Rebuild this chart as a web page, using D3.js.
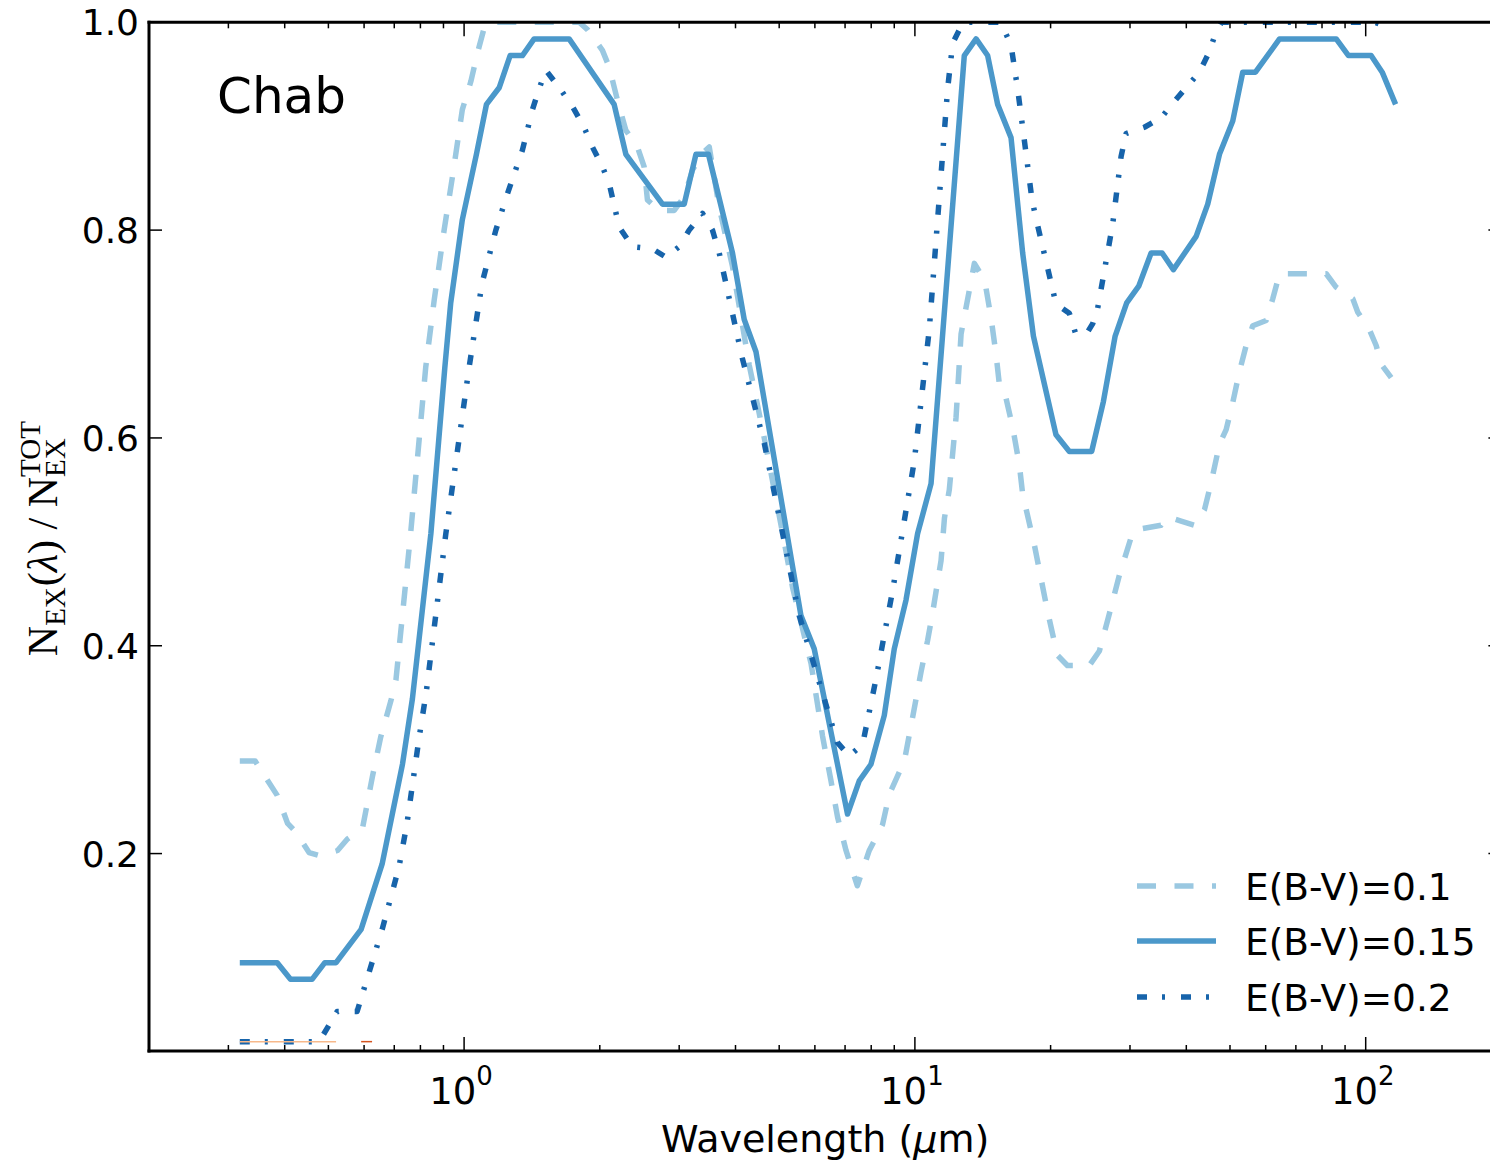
<!DOCTYPE html>
<html><head><meta charset="utf-8">
<script src="https://cdn.jsdelivr.net/npm/d3@7"></script>
<style>body{margin:0;background:#fff} svg{display:block}</style>
</head><body>
<svg id="chart" width="1490" height="1162"></svg>
<script>
// ---- data (wavelength in micron, fraction N_EX / N_EX^TOT) ----
const wl_01 = [0.318,0.344,0.385,0.406,0.423,0.453,0.478,0.524,0.551,0.595,0.626,0.653,0.688,0.706,0.761,0.822,0.858,0.903,0.942,0.991,1.035,1.070,1.107,1.136,1.800,1.878,2.027,2.098,2.189,2.285,2.424,2.508,2.551,2.709,2.925,3.078,3.212,3.380,3.498,3.681,3.939,4.291,4.633,5.131,5.354,5.883,6.240,6.514,6.738,7.034,7.451,7.921,8.478,8.773,9.474,9.883,10.32,10.67,10.95,11.43,11.63,11.92,12.34,12.66,13.55,13.90,14.38,14.75,15.14,15.39,15.93,16.48,17.05,17.34,18.41,19.67,20.70,21.79,24.38,25.66,27.01,28.42,30.41,31.20,35.16,36.38,38.95,41.70,43.89,45.41,47.38,49.03,50.71,52.48,54.31,56.17,60.15,62.21,64.40,81.73,86.02,93.62,96.04,101.97,105.5,108.2,113.9];
const val_01 = [0.289,0.289,0.256,0.229,0.221,0.201,0.198,0.203,0.214,0.224,0.274,0.312,0.347,0.367,0.508,0.668,0.732,0.800,0.851,0.916,0.943,0.970,0.994,1.0,1.0,0.993,0.973,0.957,0.925,0.896,0.880,0.861,0.829,0.819,0.819,0.832,0.858,0.874,0.880,0.822,0.765,0.670,0.600,0.500,0.456,0.383,0.313,0.270,0.235,0.203,0.169,0.203,0.228,0.257,0.289,0.331,0.375,0.405,0.432,0.482,0.523,0.550,0.620,0.700,0.768,0.760,0.744,0.716,0.680,0.652,0.638,0.610,0.574,0.546,0.497,0.434,0.391,0.381,0.381,0.395,0.431,0.468,0.509,0.512,0.516,0.524,0.520,0.516,0.531,0.557,0.594,0.608,0.634,0.664,0.689,0.708,0.713,0.734,0.758,0.758,0.745,0.734,0.721,0.704,0.689,0.671,0.658];

const wl_015 = [0.318,0.385,0.412,0.460,0.491,0.520,0.591,0.658,0.693,0.730,0.768,0.844,0.906,0.934,0.991,1.065,1.121,1.196,1.265,1.347,1.430,1.710,2.152,2.285,2.755,3.078,3.268,3.484,3.939,4.182,4.441,5.588,5.980,7.089,7.526,7.990,8.553,9.000,9.556,10.14,10.86,12.87,13.67,14.50,15.26,16.34,17.34,18.32,20.56,22.01,24.67,26.19,27.81,29.50,31.37,33.42,35.35,37.45,42.06,44.63,47.38,50.71,53.37,56.95,64.40,86.02,91.58,102.8,108.8,116.5];
const val_015 = [0.095,0.095,0.079,0.079,0.095,0.095,0.127,0.190,0.238,0.286,0.349,0.508,0.667,0.730,0.810,0.873,0.921,0.937,0.968,0.968,0.984,0.984,0.921,0.873,0.825,0.825,0.873,0.873,0.778,0.714,0.683,0.429,0.397,0.238,0.270,0.286,0.333,0.397,0.444,0.508,0.556,0.968,0.984,0.968,0.921,0.889,0.778,0.698,0.603,0.587,0.587,0.635,0.698,0.730,0.746,0.778,0.778,0.762,0.794,0.825,0.873,0.905,0.952,0.952,0.984,0.984,0.968,0.968,0.952,0.921];

const wl_02 = [0.318,0.477,0.523,0.579,0.658,0.717,0.747,0.795,0.824,0.911,1.026,1.096,1.176,1.248,1.347,1.418,1.467,1.518,1.639,1.739,1.846,1.926,2.027,2.098,2.208,2.363,2.617,2.803,3.000,3.157,3.380,3.556,3.681,4.140,4.633,5.539,6.728,7.151,7.655,8.198,8.924,9.970,10.76,11.23,11.82,12.13,12.66,12.90,15.39,15.65,16.34,16.90,17.64,18.19,18.57,20.56,22.01,22.78,24.17,24.80,25.44,27.47,28.67,29.41,32.29,35.16,37.64,42.78,45.02,46.58,47.90,104.6,112.9];
const val_02 = [0.019,0.019,0.048,0.048,0.127,0.187,0.229,0.312,0.355,0.508,0.668,0.749,0.800,0.835,0.877,0.916,0.936,0.954,0.935,0.919,0.899,0.880,0.861,0.845,0.803,0.784,0.782,0.774,0.784,0.800,0.816,0.800,0.778,0.677,0.595,0.429,0.307,0.294,0.305,0.368,0.453,0.578,0.704,0.810,0.936,0.980,0.996,1.0,1.0,0.996,0.978,0.936,0.874,0.829,0.811,0.729,0.720,0.699,0.702,0.710,0.725,0.806,0.871,0.893,0.899,0.908,0.924,0.952,0.972,0.991,1.0,1.0,0.995];

// faint extra traces along the bottom
const wl_extraA = [0.318, 0.520];
const val_extraA = [0.019, 0.019];
const wl_extraB = [0.591, 0.625];
const val_extraB = [0.019, 0.019];

const seriesLabels = ["E(B-V)=0.1", "E(B-V)=0.15", "E(B-V)=0.2"];
const yTicks = [0.2, 0.4, 0.6, 0.8, 1.0];
const xMajor = [1, 10, 100];
const xMajorExp = ["0", "1", "2"];
const panelLabel = "Chab";

// ---- layout ----
const svg = d3.select("#chart");
const L = 149, R = 1501.4, T = 22.3, B = 1051;
const x = d3.scaleLog().domain([0.2, 200]).range([L, R]);
const y = d3.scaleLinear().domain([0.01, 1.0]).range([B, T]);
const FONT = "DejaVu Sans, Verdana, sans-serif";

svg.append("defs").append("clipPath").attr("id","clip")
  .append("rect").attr("x",L).attr("y",T).attr("width",R-L).attr("height",B-T);

const line = d3.line().x(d=>x(d[0])).y(d=>y(d[1]));
const zip = (a,b)=>a.map((v,i)=>[v,b[i]]);

const styles = [
  {wl: wl_01, v: val_01, color:"#9ac8e1", dash:"19,18.5", w:5.5},
  {wl: wl_015, v: val_015, color:"#4b98ca", dash:null, w:5.5},
  {wl: wl_02, v: val_02, color:"#1764ab", dash:"10,15,3,16", w:5.5}
];
const plot = svg.append("g").attr("clip-path","url(#clip)");
styles.forEach(s=>{
  plot.append("path").datum(zip(s.wl, s.v)).attr("d", line)
    .attr("fill","none").attr("stroke", s.color).attr("stroke-width", s.w)
    .attr("stroke-dasharray", s.dash).attr("stroke-linejoin","round");
});
plot.append("path").datum(zip(wl_extraA, val_extraA)).attr("d", line)
  .attr("fill","none").attr("stroke","#f7b98b").attr("stroke-width",1.5);
plot.append("path").datum(zip(wl_extraB, val_extraB)).attr("d", line)
  .attr("fill","none").attr("stroke","#d4541f").attr("stroke-width",1.5);

// ---- spines ----
const ax = svg.append("g");
ax.append("line").attr("x1",L).attr("x2",L).attr("y1",T-1.5).attr("y2",B+1.5).attr("stroke","#000").attr("stroke-width",3);
ax.append("line").attr("x1",L-1.5).attr("x2",R).attr("y1",B).attr("y2",B).attr("stroke","#000").attr("stroke-width",3);
ax.append("line").attr("x1",L-1.5).attr("x2",R).attr("y1",T).attr("y2",T).attr("stroke","#000").attr("stroke-width",3);
ax.append("line").attr("x1",R).attr("x2",R).attr("y1",T).attr("y2",B).attr("stroke","#000").attr("stroke-width",3);

// ---- ticks ----
const minor = [];
[0.1,1,10,100].forEach(d=>{ for(let k=2;k<=9;k++){ const v=d*k; if(v>=0.2 && v<=200) minor.push(v);} });
minor.forEach(v=>{
  const px = x(v);
  ax.append("line").attr("x1",px).attr("x2",px).attr("y1",B).attr("y2",B-6).attr("stroke","#000").attr("stroke-width",1.5);
  ax.append("line").attr("x1",px).attr("x2",px).attr("y1",T).attr("y2",T+6).attr("stroke","#000").attr("stroke-width",1.5);
});
xMajor.forEach((v,i)=>{
  const px = x(v);
  ax.append("line").attr("x1",px).attr("x2",px).attr("y1",B).attr("y2",B-14).attr("stroke","#000").attr("stroke-width",1.5);
  ax.append("line").attr("x1",px).attr("x2",px).attr("y1",T).attr("y2",T+14).attr("stroke","#000").attr("stroke-width",1.5);
  const t = ax.append("text").attr("x",px-3).attr("y",1104).attr("text-anchor","middle")
    .attr("font-family",FONT).attr("font-size",37).attr("fill","#000");
  t.append("tspan").text("10");
  t.append("tspan").attr("font-size",26).attr("dy",-19).text(xMajorExp[i]);
});
yTicks.forEach(v=>{
  const py = y(v);
  ax.append("line").attr("x1",L).attr("x2",L+13).attr("y1",py).attr("y2",py).attr("stroke","#000").attr("stroke-width",1.5);
  ax.append("line").attr("x1",R).attr("x2",R-13).attr("y1",py).attr("y2",py).attr("stroke","#000").attr("stroke-width",1.5);
  ax.append("text").attr("x",139).attr("y",py+13).attr("text-anchor","end")
    .attr("font-family",FONT).attr("font-size",36).attr("fill","#000").text(v.toFixed(1));
});

// ---- x label ----
const xl = svg.append("text").attr("x",(L+R)/2).attr("y",1152).attr("text-anchor","middle")
  .attr("font-family",FONT).attr("font-size",38).attr("fill","#000");
xl.append("tspan").text("Wavelength (");
xl.append("tspan").attr("font-style","italic").text("\u03bc");
xl.append("tspan").text("m)");

// ---- y label (rotated, serif) ----
const SER = "Liberation Serif, Times New Roman, serif";
const yg = svg.append("g");
let cx = 0;
function piece(txt, size, dy, italic){
  const t = yg.append("text").attr("x",cx).attr("y",dy).attr("font-family",SER)
    .attr("font-size",size).attr("fill","#000").text(txt);
  if(italic) t.attr("font-style","italic");
  const w = t.node().getComputedTextLength();
  cx += w; return w;
}
piece("N", 42, 0);
piece("EX", 29, 8);
cx += 1;
piece("(", 42, 0);
piece("\u03bb", 42, 0, true);
piece(") / N", 42, 0);
const sx = cx;
const w1 = piece("TOT", 29, -17);
cx = sx;
const w2 = piece("EX", 29, 8);
cx = sx + Math.max(w1,w2);
const total = cx;
yg.attr("transform", `translate(57,${(T+B)/2 + 2}) rotate(-90) translate(${-total/2},0)`);

// ---- panel label ----
svg.append("text").attr("x",217).attr("y",113).attr("font-family",FONT)
  .attr("font-size",50).attr("fill","#000").text(panelLabel);

// ---- legend ----
const legY = [886, 941, 997];
styles.forEach((s,i)=>{
  svg.append("line").attr("x1",1137).attr("x2",1216).attr("y1",legY[i]).attr("y2",legY[i])
    .attr("stroke",s.color).attr("stroke-width",s.w).attr("stroke-dasharray",s.dash);
  svg.append("text").attr("x",1245).attr("y",legY[i]+13.5).attr("font-family",FONT)
    .attr("font-size",37.5).attr("fill","#000").text(seriesLabels[i]);
});
</script>
</body></html>
